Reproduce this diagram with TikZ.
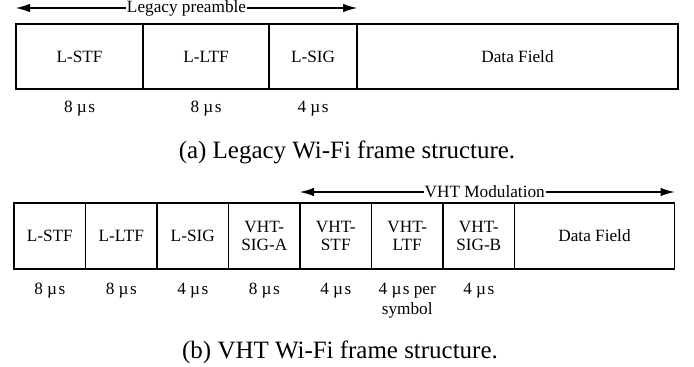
\documentclass[tikz,border=0pt]{standalone}
\usepackage{fontspec}
\setmainfont{Liberation Serif}
\usetikzlibrary{positioning}
\usetikzlibrary{arrows.meta}
\newcommand{\usec}{µ\kern0.8pt s}
\tikzset{% 
	field/.style={draw,line width=1.1pt,outer sep=0pt,inner sep=0pt,align=center,font=\fontsize{9.8}{10.6}\selectfont}
}
\tikzset{% 
	duration/.style={inner sep=0pt,align=center,font=\fontsize{9.8}{11.4}\selectfont}
}
\tikzset{% 
	span/.style={line width=0.6pt,{Latex[length=0.28cm,width=0.17cm]}-{Latex[length=0.28cm,width=0.17cm]}},
	span_label/.style={fill=white,inner sep=0.5pt,font=\fontsize{9.8}{10.6}\selectfont}
}
\tikzset{% 
	caption/.style={inner sep=0pt,font=\fontsize{14.2}{16}\selectfont}
}

\begin{document}
\begin{tikzpicture}
		\useasboundingbox (0,0) rectangle (13.88,7.32);

		%Legacy frame
		\node [field,minimum width=2.54cm,minimum height=1.30cm,anchor=north west] (lstf_a) at (0.32,6.84) {L-STF};
		\node [field,minimum width=2.52cm,minimum height=1.30cm,right=0cm of lstf_a] (lltf_a) {L-LTF};
		\node [field,minimum width=1.76cm,minimum height=1.30cm,right=0cm of lltf_a] (lsig_a) {L-SIG};
		\node [field,minimum width=6.42cm,minimum height=1.30cm,right=0cm of lsig_a] (data_a) {Data Field};

		\node [duration,below=0.24cm of lstf_a] (t1_a) {8 \usec};
		\node [duration,below=0.24cm of lltf_a] (t2_a) {8 \usec};
		\node [duration,below=0.24cm of lsig_a] (t3_a) {4 \usec};

		\coordinate (lp1) at ([yshift=0.32cm]lstf_a.north west);
		\coordinate (lp2) at ([yshift=0.32cm]lsig_a.north east);
		\draw [span] (lp1) -- node [span_label] (lp_text) {Legacy preamble} (lp2);

		\node [caption,anchor=base] (cap_a) at (6.94,4.16) {(a) Legacy Wi-Fi frame structure.};

		%VHT frame
		\node [field,minimum width=1.43cm,minimum height=1.32cm,anchor=north west] (lstf_b) at (0.28,3.26) {L-STF};
		\node [field,minimum width=1.43cm,minimum height=1.32cm,right=0cm of lstf_b] (lltf_b) {L-LTF};
		\node [field,minimum width=1.43cm,minimum height=1.32cm,right=0cm of lltf_b] (lsig_b) {L-SIG};
		\node [field,minimum width=1.43cm,minimum height=1.32cm,right=0cm of lsig_b] (siga_b) {VHT-\\SIG-A};
		\node [field,minimum width=1.43cm,minimum height=1.32cm,right=0cm of siga_b] (vstf_b) {VHT-\\STF};
		\node [field,minimum width=1.43cm,minimum height=1.32cm,right=0cm of vstf_b] (vltf_b) {VHT-\\LTF};
		\node [field,minimum width=1.43cm,minimum height=1.32cm,right=0cm of vltf_b] (sigb_b) {VHT-\\SIG-B};
		\node [field,minimum width=3.20cm,minimum height=1.32cm,right=0cm of sigb_b] (data_b) {Data Field};

		\node [duration,below=0.28cm of lstf_b] (t1_b) {8 \usec};
		\node [duration,below=0.28cm of lltf_b] (t2_b) {8 \usec};
		\node [duration,below=0.28cm of lsig_b] (t3_b) {4 \usec};
		\node [duration,below=0.28cm of siga_b] (t4_b) {8 \usec};
		\node [duration,below=0.28cm of vstf_b] (t5_b) {4 \usec};
		\node [duration,below=0.28cm of vltf_b] (t6_b) {4 \usec{} per\\symbol};
		\node [duration,below=0.28cm of sigb_b] (t7_b) {4 \usec};

		\coordinate (vm1) at ([yshift=0.22cm]vstf_b.north west);
		\coordinate (vm2) at ([yshift=0.22cm]data_b.north east);
		\draw [span] (vm1) -- node [span_label,xshift=-0.05cm] (vm_text) {VHT Modulation} (vm2);

		\node [caption,anchor=base] (cap_b) at (6.80,0.16) {(b) VHT Wi-Fi frame structure.};

	\end{tikzpicture}
\end{document}
